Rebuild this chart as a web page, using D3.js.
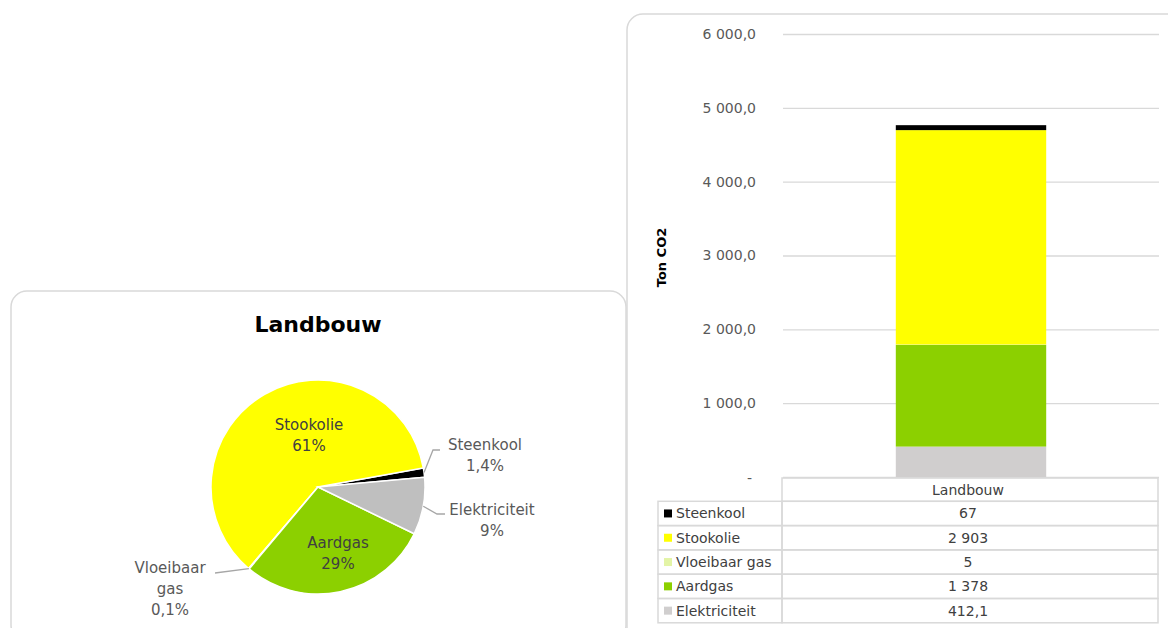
<!DOCTYPE html>
<html>
<head>
<meta charset="utf-8">
<script src="https://cdn.jsdelivr.net/npm/d3@7"></script>
<style>
  html, body { margin: 0; padding: 0; background: #fff; }
  svg { display: block; font-family: "DejaVu Sans", sans-serif; }
</style>
</head>
<body>
<svg id="chart" width="1168" height="628"></svg>
<script>
// Emissions by energy carrier, sector Landbouw (ton CO2)
const groupLabel = "Landbouw";
const categories = ["Steenkool", "Stookolie", "Vloeibaar gas", "Aardgas", "Elektriciteit"];
const values = [67, 2903, 5, 1378, 412.1];
const yTicks = [0, 1000, 2000, 3000, 4000, 5000, 6000];
const yTitle = "Ton CO2";

// colours per carrier
const barColors = ["#000000", "#ffff00", "#e3f4a6", "#8cd000", "#d0cece"];
const pieColors = ["#000000", "#ffff00", "#e3f4a6", "#8cd000", "#bfbfbf"];

const svg = d3.select("#chart");
svg.append("rect").attr("width", 1168).attr("height", 628).attr("fill", "#fff");

// chart frames
svg.append("rect").attr("x", 11).attr("y", 291).attr("width", 615).attr("height", 350)
  .attr("rx", 16).attr("fill", "none").attr("stroke", "#d9d9d9").attr("stroke-width", 1.5);
svg.append("rect").attr("x", 627).attr("y", 14).attr("width", 560).attr("height", 650)
  .attr("rx", 16).attr("fill", "none").attr("stroke", "#d9d9d9").attr("stroke-width", 1.5);

const nl = d3.formatLocale({ decimal: ",", thousands: " ", grouping: [3], currency: ["", ""] });
const fmtTick = nl.format(",.1f");
const fmtInt = nl.format(",.0f");
const fmtOne = nl.format(",.1f");
const fmtValue = v => Number.isInteger(v) ? fmtInt(v) : fmtOne(v);

/* ---------- Pie ---------- */
const cx = 318, cy = 487, R = 107;
const total = d3.sum(values);
const startA = 84.8 * Math.PI / 180;

const pie = d3.pie().sort(null).value(d => d.value)
  .startAngle(startA).endAngle(startA - 2 * Math.PI);
const pieData = pie(categories.map((c, i) => ({ cat: c, value: values[i], i })));
const arc = d3.arc().innerRadius(0).outerRadius(R);

const gPie = svg.append("g").attr("transform", `translate(${cx},${cy})`);
gPie.selectAll("path.slice").data(pieData).join("path")
  .attr("class", "slice")
  .attr("d", arc)
  .attr("fill", d => pieColors[d.data.i])
  .attr("stroke", "#fff").attr("stroke-width", 1.5);

svg.append("text").attr("x", cx).attr("y", 331.5).attr("text-anchor", "middle")
  .attr("font-size", 22).attr("font-weight", "bold").attr("fill", "#000").text(groupLabel);

const pctText = v => {
  const p = v / total * 100;
  return (p < 2 ? nl.format(".1f")(p) : nl.format(".0f")(p)) + "%";
};

// label placement per carrier, relative to the pie centre
const labelSpots = {
  "Steenkool":     { dx: 167, dy: -31.5, lines: ["Steenkool"], lead: [[115, -37], [122, -37]], color: "#595959" },
  "Stookolie":     { dx: -9,  dy: -51.5, lines: ["Stookolie"], lead: null, color: "#404040" },
  "Vloeibaar gas": { dx: -148, dy: 102,  lines: ["Vloeibaar", "gas"], lead: [[-103, 86]], color: "#595959" },
  "Aardgas":       { dx: 20,  dy: 66.5,  lines: ["Aardgas"], lead: null, color: "#404040" },
  "Elektriciteit": { dx: 174, dy: 33,    lines: ["Elektriciteit"], lead: [[119, 27], [127, 27]], color: "#595959" }
};
const lineH = 21;

pieData.forEach(d => {
  const s = labelSpots[d.data.cat];
  const allLines = s.lines.concat([pctText(d.data.value)]);
  const top = s.dy - (allLines.length - 1) * lineH / 2;
  const t = gPie.append("text").attr("text-anchor", "middle")
    .attr("font-size", 15).attr("fill", s.color);
  allLines.forEach((ln, k) => {
    t.append("tspan").attr("x", s.dx).attr("y", top + k * lineH + 5.3).text(ln);
  });
  if (s.lead) {
    const mid = (d.startAngle + d.endAngle) / 2;
    const p0 = [R * Math.sin(mid), -R * Math.cos(mid)];
    gPie.append("path")
      .attr("d", d3.line()([p0].concat(s.lead)))
      .attr("fill", "none").attr("stroke", "#a6a6a6").attr("stroke-width", 1.3);
  }
});

/* ---------- Stacked bar ---------- */
const plotL = 783, plotR = 1159, plotT = 34, plotB = 477;
const y = d3.scaleLinear().domain([0, 6000]).range([plotB, plotT]);
const x = d3.scaleBand().domain([groupLabel]).range([plotL, plotR]).padding(0);

// gridlines
const grid = svg.append("g").attr("transform", `translate(${plotL},0)`)
  .call(d3.axisLeft(y).tickValues(yTicks).tickSize(-(plotR - plotL)).tickFormat(""));
grid.select(".domain").remove();
grid.selectAll(".tick line").attr("stroke", "#d9d9d9").attr("stroke-width", 1.3);

// tick labels
const yAxis = svg.append("g").attr("transform", `translate(${plotL},0)`)
  .call(d3.axisLeft(y).tickValues(yTicks).tickSize(0).tickPadding(27)
    .tickFormat(v => v === 0 ? "-" : fmtTick(v)));
yAxis.select(".domain").remove();
yAxis.selectAll("text").attr("font-size", 14).attr("fill", "#595959")
  .attr("font-family", "DejaVu Sans, sans-serif");
yAxis.selectAll(".tick").filter(v => v === 0).select("text").attr("dx", -4).attr("dy", "0.4em");

svg.append("text")
  .attr("transform", `translate(666,257.5) rotate(-90)`)
  .attr("text-anchor", "middle").attr("font-size", 13).attr("font-weight", "bold")
  .attr("fill", "#000").text(yTitle);

const stackKeys = categories.slice().reverse();
const row = {}; categories.forEach((c, i) => row[c] = values[i]);
const series = d3.stack().keys(stackKeys)([row]);
const barW = x.bandwidth() * 0.4;
const barX = x(groupLabel) + (x.bandwidth() - barW) / 2;

svg.append("g").selectAll("rect").data(series).join("rect")
  .attr("x", barX).attr("width", barW)
  .attr("y", s => y(s[0][1]))
  .attr("height", s => y(s[0][0]) - y(s[0][1]))
  .attr("fill", s => barColors[categories.indexOf(s.key)]);

/* ---------- Data table ---------- */
const tblL = 658, colSplit = 782, tblR = 1158;
const headT = 478, rowH = 24.3;
const tbl = svg.append("g");
const lineAttr = sel => sel.attr("stroke", "#d9d9d9").attr("stroke-width", 1.5).attr("fill", "none");

// header cell
tbl.append("rect").attr("x", colSplit).attr("y", headT).attr("width", tblR - colSplit).attr("height", rowH - 1)
  .call(lineAttr);
tbl.append("text").attr("x", x(groupLabel) + x.bandwidth() / 2 - 3).attr("y", headT + rowH / 2 + 4.5)
  .attr("text-anchor", "middle").attr("font-size", 14).attr("fill", "#404040").text(groupLabel);

categories.forEach((c, i) => {
  const ry = headT + rowH - 1 + i * rowH;
  tbl.append("rect").attr("x", tblL).attr("y", ry).attr("width", colSplit - tblL).attr("height", rowH).call(lineAttr);
  tbl.append("rect").attr("x", colSplit).attr("y", ry).attr("width", tblR - colSplit).attr("height", rowH).call(lineAttr);
  tbl.append("rect").attr("x", 664).attr("y", ry + rowH / 2 - 4).attr("width", 8).attr("height", 8)
    .attr("fill", barColors[i]);
  tbl.append("text").attr("x", 676).attr("y", ry + rowH / 2 + 5)
    .attr("font-size", 14).attr("fill", "#404040").text(c);
  tbl.append("text").attr("x", x(groupLabel) + x.bandwidth() / 2 - 3).attr("y", ry + rowH / 2 + 5)
    .attr("text-anchor", "middle").attr("font-size", 14).attr("fill", "#404040").text(fmtValue(values[i]));
});
</script>
</body>
</html>
